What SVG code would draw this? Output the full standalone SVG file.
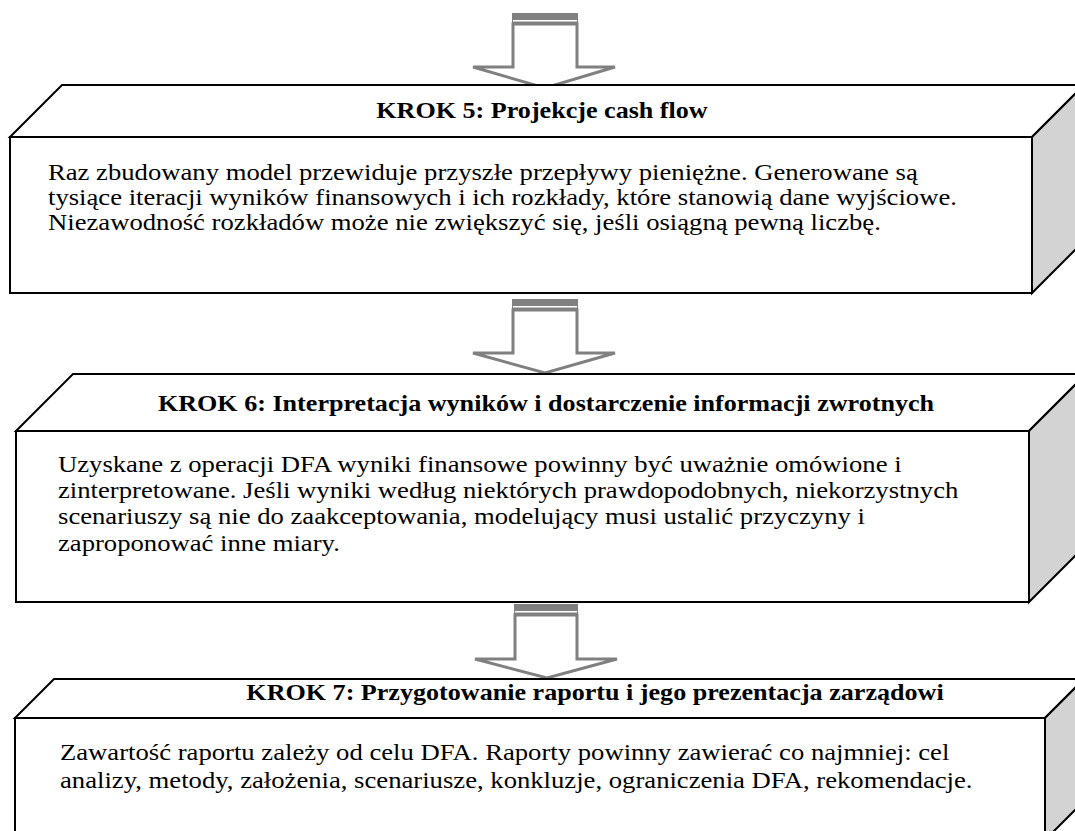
<svg xmlns="http://www.w3.org/2000/svg" width="1075" height="831" viewBox="0 0 1075 831">
<style>
.face{fill:#fff;stroke:#000;stroke-width:2}
.side{fill:#d3d3d3;stroke:#000;stroke-width:2}
.arr{fill:#fff;stroke:#808080;stroke-width:3}
.band{fill:#808080}
.title{font-family:"Liberation Serif","Times New Roman",serif;font-weight:bold;font-size:22.5px;fill:#000;text-anchor:middle}
.body{font-family:"Liberation Serif","Times New Roman",serif;font-size:23.5px;fill:#000}
</style>
<rect width="1075" height="831" fill="#fff"/>
<g id="connectors">
  <g id="arrow1">
    <polygon class="arr" points="513,24 577,24 577,67 615,67 545,88 473,67 513,67"/>
    <rect class="band" x="512" y="13" width="66" height="12"/>
    <rect x="513" y="20" width="64" height="1.5" fill="#fff"/>
  </g>
  <g id="arrow2">
    <polygon class="arr" points="513,310 577,310 577,353 615,353 545,373 473,353 513,353"/>
    <rect class="band" x="512" y="299" width="66" height="12"/>
    <rect x="513" y="306" width="64" height="1.5" fill="#fff"/>
  </g>
  <g id="arrow3">
    <polygon class="arr" points="515,615 577,615 577,659 617,659 547,678 475,659 515,659"/>
    <rect class="band" x="514" y="604" width="64" height="12"/>
    <rect x="515" y="611" width="62" height="1.5" fill="#fff"/>
  </g>
</g>
<g id="node-krok5">
  <polygon class="face" points="10,137 62,85 1084,85 1032,137"/>
  <polygon class="side" points="1032,137 1084,85 1084,241 1032,293"/>
  <rect class="face" x="10" y="137" width="1022" height="156"/>
  <text class="title" transform="translate(542,118) scale(1.16,1)">KROK 5: Projekcje cash flow</text>
  <g transform="translate(48,0) scale(1.135,1)">
    <text class="body" x="0" y="180">Raz zbudowany model przewiduje przyszłe przepływy pieniężne. Generowane są</text>
    <text class="body" x="0" y="205">tysiące iteracji wyników finansowych i ich rozkłady, które stanowią dane wyjściowe.</text>
    <text class="body" x="0" y="230">Niezawodność rozkładów może nie zwiększyć się, jeśli osiągną pewną liczbę.</text>
  </g>
</g>
<g id="node-krok6">
  <polygon class="face" points="16,431 73,374 1086,374 1029,431"/>
  <polygon class="side" points="1029,431 1086,374 1086,545 1029,602"/>
  <rect class="face" x="16" y="431" width="1013" height="171"/>
  <text class="title" transform="translate(546,411) scale(1.16,1)">KROK 6: Interpretacja wyników i dostarczenie informacji zwrotnych</text>
  <g transform="translate(58,0) scale(1.135,1)">
    <text class="body" x="0" y="472">Uzyskane z operacji DFA wyniki finansowe powinny być uważnie omówione i</text>
    <text class="body" x="0" y="498">zinterpretowane. Jeśli wyniki według niektórych prawdopodobnych, niekorzystnych</text>
    <text class="body" x="0" y="524">scenariuszy są nie do zaakceptowania, modelujący musi ustalić przyczyny i</text>
    <text class="body" x="0" y="551">zaproponować inne miary.</text>
  </g>
</g>
<g id="node-krok7">
  <polygon class="face" points="15,718 54,679 1084,679 1045,718"/>
  <polygon class="side" points="1045,718 1084,679 1084,801 1045,840"/>
  <rect class="face" x="15" y="718" width="1030" height="122"/>
  <text class="title" transform="translate(595,700) scale(1.16,1)">KROK 7: Przygotowanie raportu i jego prezentacja zarządowi</text>
  <g transform="translate(60,0) scale(1.135,1)">
    <text class="body" x="0" y="760">Zawartość raportu zależy od celu DFA. Raporty powinny zawierać co najmniej: cel</text>
    <text class="body" x="0" y="788">analizy, metody, założenia, scenariusze, konkluzje, ograniczenia DFA, rekomendacje.</text>
  </g>
</g>
</svg>
